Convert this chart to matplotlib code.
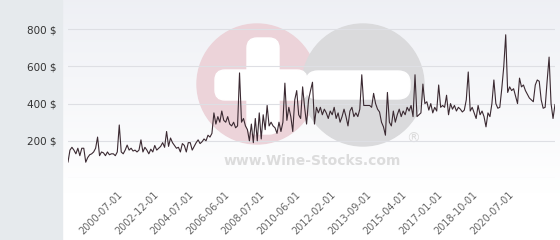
import numpy as np
import matplotlib.pyplot as plt
from matplotlib.patches import Rectangle, Circle, FancyBboxPatch

prices = [
    86, 150, 165, 150, 130, 160, 120, 160, 160, 85, 110, 125, 130, 140, 160, 220,
    120, 140, 135, 120, 140, 125, 130, 130, 120, 140, 285, 140,
    130, 150, 177, 150, 160, 145, 150, 140,
    150, 205, 140, 165, 150, 130, 155, 140, 175, 150, 160, 170, 190, 165, 250, 170,
    215, 190, 175, 160, 165, 140, 185, 175, 140, 190, 190, 150, 170, 190, 205, 185,
    195, 210, 200, 230,
    220, 240, 350, 290, 330, 300, 360, 310, 300, 330, 290, 280, 300, 270, 280, 565,
    300, 320, 280, 260, 200, 290, 190, 320, 200, 350, 210, 340, 260, 390, 280, 300,
    280, 270, 240, 300,
    250, 300, 510, 310, 380, 330, 250, 420, 470, 340, 320, 490, 380, 290, 420, 470,
    515, 290, 380, 350, 380, 340, 370, 350, 320, 360, 340, 380, 320, 350, 300, 330,
    370, 330, 280, 360, 380, 330, 350,
    330, 370, 555, 390, 390, 390, 390, 380, 455, 400, 370, 355, 300, 275, 230, 460,
    300, 280, 360, 300, 340, 370, 330, 360, 340, 380, 360, 390, 330, 555, 330, 340,
    350, 505, 400,
    410, 365, 400, 350, 380, 360, 500, 380, 390, 380, 445, 340, 400, 370, 390, 360,
    380, 370, 355, 365, 420, 570, 360, 380, 350, 320, 390, 340, 360, 330, 275, 350,
    330, 400,
    527, 400, 375, 380, 480, 597, 770, 460, 490, 470, 480, 440, 400, 537, 490, 500,
    470, 450,
    430, 420, 410, 500, 527, 520, 420, 375, 380, 520, 650, 400, 320, 395,
]
date_labels = ['2000-07-01', '2002-12-01', '2004-07-01', '2006-06-01', '2008-07-01',
               '2010-06-01', '2012-02-01', '2013-09-01', '2015-04-01', '2017-01-01',
               '2018-10-01', '2020-07-01']
date_pos = [27 + 18 * k for k in range(len(date_labels))]
y_ticks = [0, 200, 400, 600, 800]
y_labels = ['', '200 $', '400 $', '600 $', '800 $']

fig = plt.figure(figsize=(5.6, 2.4), dpi=100)

# background layer in pixel coordinates
bg = fig.add_axes([0, 0, 1, 1], zorder=0)
bg.set_xlim(0, 560)
bg.set_ylim(240, 0)
bg.axis('off')
grad = np.linspace(0, 1, 100).reshape(-1, 1)
top = np.array([0.935, 0.941, 0.960])
bottom = np.array([1.0, 1.0, 1.0])
img = top + (bottom - top) * np.clip(grad * 1.25, 0, 1)[..., None]
bg.imshow(img.reshape(100, 1, 3), extent=[63, 560, 240, 0], aspect='auto')
bg.add_patch(Rectangle((0, 0), 62, 240, color='#e6eaed'))

# watermark
bg.add_patch(Circle((257, 84), 60, color='#ecd3d9'))
bg.add_patch(Circle((363, 85), 61, color='#dadadc'))
bg.add_patch(FancyBboxPatch((251, 42), 24, 88, boxstyle='round,pad=4,rounding_size=10',
                            color='white'))
bg.add_patch(FancyBboxPatch((219, 74), 84, 22, boxstyle='round,pad=4,rounding_size=10',
                            color='white'))
bg.add_patch(FancyBboxPatch((310, 75), 96, 20, boxstyle='round,pad=4,rounding_size=12',
                            color='white'))
bg.text(312, 161, 'www.Wine-Stocks.com', ha='center', va='center', fontsize=10,
        fontweight='bold', color='#dcdcdc')
bg.text(413, 139, '®', ha='center', va='center', fontsize=10, color='#dcdcdc')

ax = fig.add_axes([68 / 560, 1 - 178 / 240, 487 / 560, 167.4 / 240], zorder=1)
ax.patch.set_alpha(0)
ax.plot(range(len(prices)), prices, color='#3b2a32', linewidth=0.8)
ax.set_xlim(0, len(prices) - 1)
ax.set_ylim(0, 900)
ax.set_yticks(y_ticks)
ax.set_yticklabels(y_labels, fontsize=7.5, color='#333333')
ax.set_xticks(date_pos)
ax.set_xticklabels(date_labels, fontsize=7, color='#666666', rotation=45,
                   ha='right', va='center', rotation_mode='anchor')
ax.tick_params(axis='both', length=0)
ax.tick_params(axis='y', pad=8)
ax.tick_params(axis='x', pad=11)
ax.grid(axis='y', color='#dedfe4', linewidth=0.8)
ax.set_axisbelow(True)
for s in ax.spines.values():
    s.set_visible(False)

fig.savefig('out.png', dpi=100)
